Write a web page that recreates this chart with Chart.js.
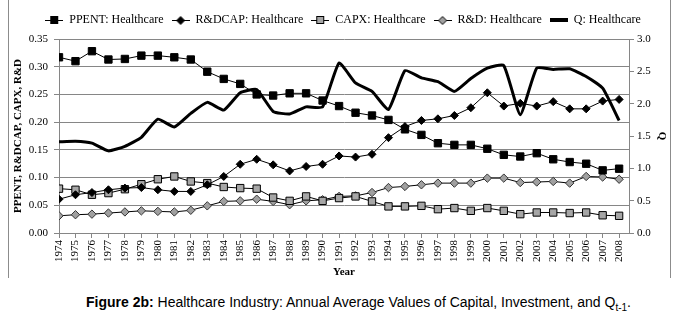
<!DOCTYPE html>
<html>
<head>
<meta charset="utf-8">
<script src="https://cdn.jsdelivr.net/npm/chart.js@4.4.0/dist/chart.umd.min.js"></script>
<style>
    body { margin: 0; background: #fff; }
    #wrap { position: relative; width: 686px; height: 317px; overflow: hidden; }
    #frame { position: absolute; left: 8px; top: 0; width: 661px; height: 278px; border-left: 1px solid #8c8c8c; border-right: 1px solid #8c8c8c; }
    #chart { position: absolute; left: 0; top: 0; }
    #caption { position: absolute; left: 86px; top: 294px; font: 14px "Liberation Sans", Arial, sans-serif; color: #000; white-space: nowrap; }
    #caption sub { font-size: 10px; }
</style>
</head>
<body>
<div id="wrap">
    <div id="frame"></div>
    <canvas id="chart" width="686" height="285"></canvas>
    <div id="caption"><b>Figure 2b:</b> Healthcare Industry: Annual Average Values of Capital, Investment, and Q<sub>t-1</sub>.</div>
</div>
<script>
const years = [1974, 1975, 1976, 1977, 1978, 1979, 1980, 1981, 1982, 1983, 1984, 1985, 1986, 1987, 1988, 1989, 1990,
    1991, 1992, 1993, 1994, 1995, 1996, 1997, 1998, 1999, 2000, 2001, 2002, 2003, 2004, 2005, 2006, 2007, 2008];

const ppent = [0.317, 0.310, 0.328, 0.313, 0.314, 0.320, 0.320, 0.317, 0.313, 0.291, 0.278, 0.269, 0.250,
    0.248, 0.252, 0.252, 0.239, 0.229, 0.217, 0.212, 0.204, 0.187, 0.177,
    0.162, 0.159, 0.159, 0.152, 0.141, 0.138, 0.144, 0.133, 0.128, 0.125, 0.113, 0.116];
const rdcap = [0.061, 0.069, 0.073, 0.078, 0.081, 0.082, 0.078, 0.075, 0.075, 0.087, 0.102, 0.124, 0.133,
    0.123, 0.112, 0.120, 0.124, 0.139, 0.137, 0.142, 0.172, 0.192, 0.203,
    0.206, 0.212, 0.226, 0.253, 0.229, 0.234, 0.229, 0.237, 0.224, 0.224, 0.238, 0.241];
const capx = [0.080, 0.078, 0.069, 0.072, 0.079, 0.088, 0.097, 0.102, 0.093, 0.090, 0.083, 0.081, 0.080,
    0.064, 0.058, 0.066, 0.058, 0.063, 0.066, 0.057, 0.048, 0.048, 0.049,
    0.043, 0.045, 0.040, 0.045, 0.040, 0.034, 0.037, 0.037, 0.036, 0.037, 0.032, 0.031];
const rd = [0.031, 0.033, 0.034, 0.036, 0.038, 0.040, 0.039, 0.038, 0.041, 0.049, 0.057, 0.058, 0.061,
    0.057, 0.051, 0.058, 0.060, 0.066, 0.067, 0.073, 0.082, 0.084, 0.087,
    0.090, 0.090, 0.090, 0.099, 0.099, 0.091, 0.092, 0.093, 0.090, 0.102, 0.101, 0.097];
const q = [1.41, 1.42, 1.39, 1.27, 1.34, 1.48, 1.76, 1.64, 1.85, 2.02, 1.90, 2.17, 2.22,
    1.88, 1.84, 1.95, 1.95, 2.63, 2.32, 2.19, 1.91, 2.51, 2.40,
    2.34, 2.19, 2.39, 2.55, 2.59, 1.83, 2.55, 2.53, 2.54, 2.42, 2.24, 1.74];

const leftTicks = { min: 0, max: 0.35, step: 0.05 };
const rightTicks = { min: 0, max: 3, step: 0.5 };

const gridGray = '#868686';
const serif = 'Liberation Serif';

// little line+marker pictures for the legend
function legendIcon(kind) {
    const c = document.createElement('canvas');
    c.width = 18; c.height = 10;
    const g = c.getContext('2d');
    g.strokeStyle = '#000';
    if (kind === 'thick') {
        g.fillStyle = '#000';
        g.fillRect(0, 3, 18, 4);
        return c;
    }
    g.lineWidth = 1;
    g.beginPath(); g.moveTo(0, 5.5); g.lineTo(18, 5.5); g.stroke();
    if (kind === 'blackSquare' || kind === 'graySquare') {
        g.fillStyle = kind === 'blackSquare' ? '#000' : '#a6a6a6';
        g.fillRect(5.5, 1.5, 7, 7);
        g.strokeRect(5.5, 1.5, 7, 7);
    } else {
        g.fillStyle = kind === 'blackDiamond' ? '#000' : '#a0a0a0';
        g.beginPath();
        g.moveTo(9, 1.5); g.lineTo(13, 5.5); g.lineTo(9, 9.5); g.lineTo(5, 5.5); g.closePath();
        g.fill(); g.stroke();
    }
    return c;
}

const icons = [legendIcon('blackSquare'), legendIcon('blackDiamond'), legendIcon('graySquare'), legendIcon('grayDiamond'), legendIcon('thick')];

const pts = arr => years.map((yr, i) => ({ x: yr, y: arr[i] }));

const legendHeight = {
    id: 'legendHeight',
    beforeLayout(chart) {
        const lg = chart.legend;
        if (lg && !lg._fixed) {
            const fit = lg.fit.bind(lg);
            lg.fit = function () { fit(); this.height = 33; };
            lg._fixed = true;
        }
    }
};

new Chart(document.getElementById('chart'), {
    type: 'line',
    data: {
        datasets: [
            { label: 'PPENT: Healthcare', data: pts(ppent), yAxisID: 'y', borderColor: '#000', borderWidth: 1,
              pointStyle: 'rect', pointRadius: 5.2, backgroundColor: '#000', pointBorderColor: '#000', pointBorderWidth: 1 },
            { label: 'R&DCAP: Healthcare', data: pts(rdcap), yAxisID: 'y', borderColor: '#000', borderWidth: 1,
              pointStyle: 'rectRot', pointRadius: 4, backgroundColor: '#000', pointBorderColor: '#000', pointBorderWidth: 1 },
            { label: 'CAPX: Healthcare', data: pts(capx), yAxisID: 'y', borderColor: '#000', borderWidth: 1,
              pointStyle: 'rect', pointRadius: 5.2, backgroundColor: '#a6a6a6', pointBorderColor: '#000', pointBorderWidth: 1 },
            { label: 'R&D: Healthcare', data: pts(rd), yAxisID: 'y', borderColor: '#000', borderWidth: 1,
              pointStyle: 'rectRot', pointRadius: 4.2, backgroundColor: '#a0a0a0', pointBorderColor: '#333', pointBorderWidth: 1 },
            { label: 'Q: Healthcare', data: pts(q), yAxisID: 'y1', borderColor: '#000', borderWidth: 3,
              pointRadius: 0, tension: 0.15, backgroundColor: '#000' }
        ]
    },
    options: {
        responsive: false,
        animation: false,
        devicePixelRatio: 1,
        layout: { padding: { top: 6, left: 0, right: 0, bottom: 0 } },
        plugins: {
            tooltip: { enabled: false },
            legend: {
                position: 'top',
                labels: {
                    usePointStyle: true,
                    pointStyleWidth: 18,
                    boxHeight: 10,
                    padding: 8,
                    color: '#000',
                    font: { family: serif, size: 12 },
                    generateLabels(chart) {
                        const items = Chart.defaults.plugins.legend.labels.generateLabels(chart);
                        items.forEach((it, i) => { it.pointStyle = icons[i]; });
                        return items;
                    }
                }
            }
        },
        scales: {
            x: {
                type: 'linear',
                min: years[0],
                max: years[years.length - 1] + 0.6,
                afterBuildTicks: s => { s.ticks = years.map(v => ({ value: v })); },
                afterFit: s => { s.height = 52; },
                grid: { drawOnChartArea: false, drawTicks: true, tickLength: 5, color: gridGray },
                border: { color: gridGray },
                ticks: { autoSkip: false, minRotation: 90, maxRotation: 90, padding: 2, color: '#000',
                         font: { family: serif, size: 11 }, callback: v => String(v) },
                title: { display: true, text: 'Year', color: '#000', font: { family: serif, size: 11, weight: 'bold' },
                         padding: { top: 0, bottom: 6 } }
            },
            y: {
                position: 'left',
                min: leftTicks.min,
                max: leftTicks.max,
                afterFit: s => { s.width = 59; },
                grid: { color: gridGray, tickLength: 5 },
                border: { color: gridGray },
                ticks: { stepSize: leftTicks.step, padding: 6, color: '#000', font: { family: serif, size: 11 },
                         callback: v => v.toFixed(2) },
                title: { display: true, text: 'PPENT, R&DCAP, CAPX, R&D', color: '#000',
                         font: { family: serif, size: 11, weight: 'bold' }, padding: { top: 12, bottom: 0 } }
            },
            y1: {
                position: 'right',
                min: rightTicks.min,
                max: rightTicks.max,
                afterFit: s => { s.width = 57; },
                grid: { drawOnChartArea: false, color: gridGray, tickLength: 5 },
                border: { color: gridGray },
                ticks: { stepSize: rightTicks.step, padding: 3, color: '#000', font: { family: serif, size: 11 },
                         callback: v => v.toFixed(1) },
                title: { display: true, text: 'Q', color: '#000',
                         font: { family: serif, size: 11, weight: 'bold' }, padding: { top: 18, bottom: 0 } }
            }
        }
    },
    plugins: [legendHeight]
});
</script>
</body>
</html>
